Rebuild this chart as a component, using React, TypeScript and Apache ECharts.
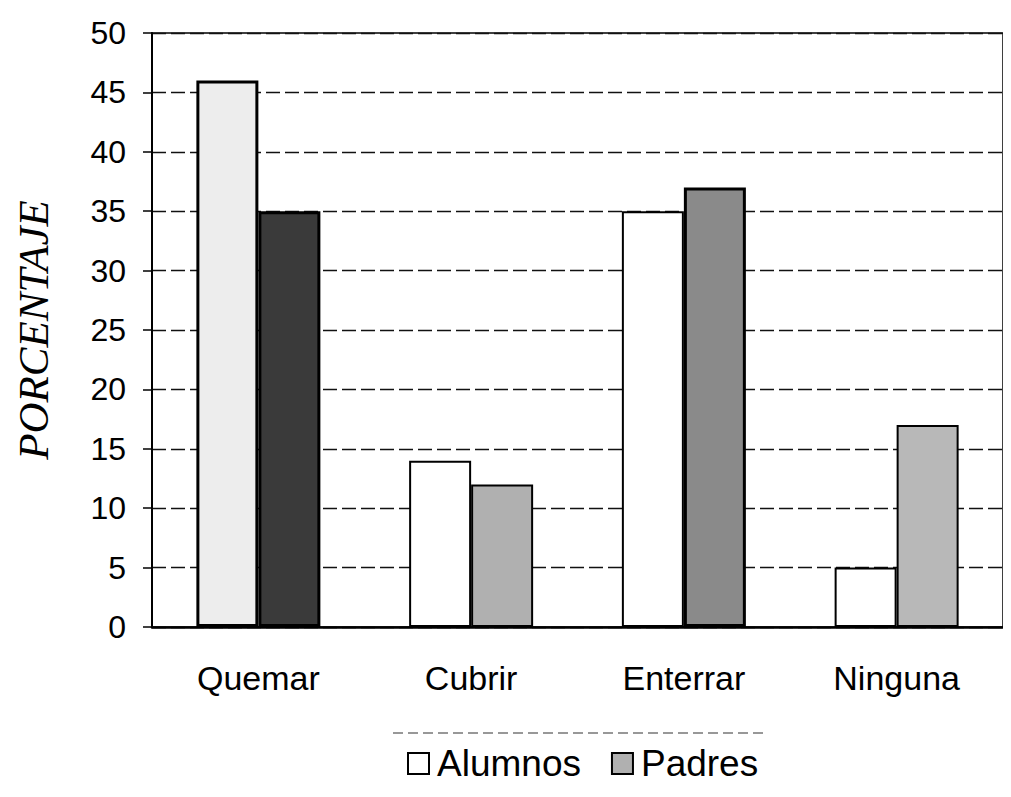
import React, { useEffect, useRef } from "react";
import * as echarts from "echarts";

const categories = ["Quemar", "Cubrir", "Enterrar", "Ninguna"];
const alumnos = [46, 14, 35, 5];
const padres = [35, 12, 37, 17];
const seriesNames = ["Alumnos", "Padres"];
const yMin = 0;
const yMax = 50;
const yStep = 5;
const axisTitle = "PORCENTAJE";

const alumnosFill = ["#ededed", "#ffffff", "#ffffff", "#ffffff"];
const padresFill = ["#3a3a3a", "#b0b0b0", "#8a8a8a", "#b8b8b8"];
const padresBorder = [3, 2, 3, 2];

export default function App() {
  const ref = useRef<HTMLDivElement>(null);
  useEffect(() => {
    if (!ref.current) return;
    const chart = echarts.init(ref.current, null, { renderer: "svg" });
    const font = "'Liberation Sans', Arial, sans-serif";
    chart.setOption({
      animation: false,
      backgroundColor: "#ffffff",
      grid: {
        left: 152,
        right: 8,
        top: 33,
        bottom: 170,
        show: true,
        borderColor: "#000",
        borderWidth: 1.5,
        containLabel: false,
      },
      legend: {
        data: seriesNames,
        left: 402,
        top: 740,
        itemWidth: 21,
        itemHeight: 21,
        itemGap: 30,
        icon: "rect",
        textStyle: { fontFamily: font, fontSize: 37, color: "#000", padding: [0, 0, 0, 3] },
      },
      xAxis: {
        type: "category",
        data: categories,
        axisLine: { lineStyle: { color: "#000", width: 2.5 } },
        axisTick: { show: false },
        axisLabel: { fontFamily: font, fontSize: 34, color: "#000", margin: 34 },
      },
      yAxis: {
        type: "value",
        min: yMin,
        max: yMax,
        interval: yStep,
        name: axisTitle,
        nameLocation: "middle",
        nameRotate: 90,
        nameGap: 97,
        nameTextStyle: {
          fontFamily: "'Liberation Serif', 'DejaVu Serif', serif",
          fontStyle: "italic",
          fontSize: 43,
          color: "#000",
        },
        axisLine: { show: true, lineStyle: { color: "#000", width: 2 } },
        axisTick: { show: true, inside: false, length: 9, lineStyle: { color: "#000", width: 1.5 } },
        axisLabel: { fontFamily: font, fontSize: 32, color: "#000", margin: 26 },
        splitLine: { show: true, lineStyle: { color: "#111", width: 1.3, type: [14, 5] } },
      },
      series: [
        {
          name: seriesNames[0],
          type: "bar",
          barWidth: 62,
          barGap: "0%",
          itemStyle: { color: "#ffffff", borderColor: "#000", borderWidth: 2 },
          data: alumnos.map((v, i) => ({
            value: v,
            itemStyle: { color: alumnosFill[i], borderWidth: i === 0 ? 3 : 2 },
          })),
        },
        {
          name: seriesNames[1],
          type: "bar",
          barWidth: 62,
          barGap: "0%",
          itemStyle: { color: "#b0b0b0", borderColor: "#000", borderWidth: 2 },
          data: padres.map((v, i) => ({
            value: v,
            itemStyle: { color: padresFill[i], borderWidth: padresBorder[i] },
          })),
        },
      ],
      graphic: [
        {
          type: "line",
          shape: { x1: 393, y1: 733, x2: 768, y2: 733 },
          style: { stroke: "#333", lineWidth: 1.2, lineDash: [10, 5] },
        },
        {
          type: "line",
          shape: { x1: 393, y1: 792, x2: 768, y2: 792 },
          style: { stroke: "#555", lineWidth: 1.2, lineDash: [10, 5] },
        },
      ],
    });
    return () => chart.dispose();
  }, []);
  return <div ref={ref} style={{ width: 1011, height: 797, margin: -8 }} />;
}
